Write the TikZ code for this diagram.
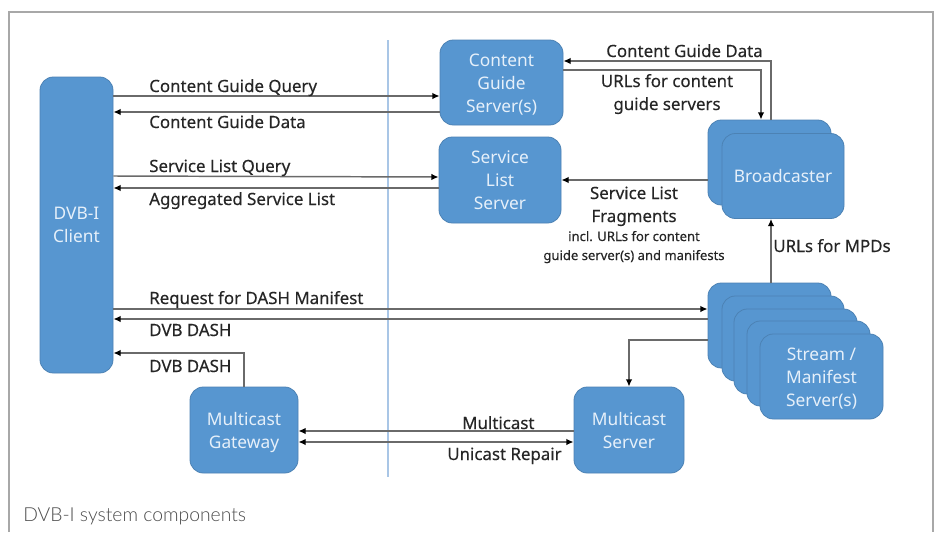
\documentclass[tikz,border=0pt]{standalone}
\usepackage{fontspec}
\setmainfont{Noto Sans}
\newfontfamily\labfont[FakeBold=0.3]{Noto Sans}
\newfontfamily\capfont{Lato Light}
\usetikzlibrary{arrows.meta}
\definecolor{boxblue}{HTML}{5796D0}
\definecolor{boxedge}{HTML}{4C82B4}
\definecolor{wire}{HTML}{6A6A6A}
\definecolor{framegrey}{HTML}{A8A8A8}
\definecolor{divider}{HTML}{A9C6E6}
\definecolor{boxtext}{HTML}{E6F0FA}
\newcommand{\lowered}[1]{\raisebox{-1.8pt}[\height][\depth]{\begin{tabular}{@{}c@{}}#1\end{tabular}}}
\tikzset{
  blk/.style 2 args={draw=boxedge,line width=0.6pt,fill=boxblue,rounded corners=10pt,text=boxtext,
    minimum width=#1*0.75pt,minimum height=#2*0.75pt,inner sep=0pt,align=center,
    font=\fontsize{13}{17.25}\selectfont},
  wirearrow/.style={draw=wire,line width=1.1pt,-{Latex[length=5.5pt,width=5pt,black]}},
  wireboth/.style={draw=wire,line width=1.1pt,{Latex[length=5.5pt,width=5pt,black]}-{Latex[length=5.5pt,width=5pt,black]}},
  lab/.style={anchor=base west,inner sep=0pt,text=black!85,font=\labfont\fontsize{12.65}{15}\selectfont},
  labc/.style={anchor=base,inner sep=0pt,text=black!85,font=\labfont\fontsize{12.65}{15}\selectfont},
  labs/.style={anchor=base,inner sep=0pt,text=black!85,font=\labfont\fontsize{9.8}{12}\selectfont}
}
\begin{document}
\begin{tikzpicture}[x=0.75pt,y=-0.75pt]
\useasboundingbox (0,0) rectangle (938,532);
\fill[white] (0,0) rectangle (938,532);
\draw[framegrey,line width=0.9pt] (9,532) -- (9,12) -- (933,12) -- (933,532);
\draw[divider,line width=0.9pt] (388,40) -- (388,477);
% boxes
\node[blk={73}{296}] (client) at (76.5,225) {DVB-I\\Client};
\node[blk={123}{85}] (cg) at (501.5,82.5) {\lowered{Content\\Guide\\Server(s)}};
\node[blk={122}{86}] (sl) at (500,180) {Service\\List\\Server};
\node[blk={123}{85}] (bb) at (769.5,162.5) {};
\node[blk={122}{85}] (bf) at (783,176) {Broadcaster};
\node[blk={123}{85}] (s1) at (769.5,325.5) {};
\node[blk={122}{85}] (s2) at (783,338.5) {};
\node[blk={123}{85}] (s3) at (795.5,351.5) {};
\node[blk={123}{85}] (s4) at (808.5,363.5) {};
\node[blk={123}{85}] (s5) at (821.5,376.5) {\lowered{Stream /\\Manifest\\Server(s)}};
\node[blk={110}{86}] (ms) at (629,430) {Multicast\\Server};
\node[blk={108}{86}] (mg) at (244,430) {\lowered{Multicast\\Gateway}};
% connector waypoints
\coordinate (cgd) at (771,61);
\coordinate (cgu) at (761,70);
\coordinate (smc) at (629,340);
\coordinate (gwc) at (244,353);
% connectors
\draw[wirearrow] (client.east |- 0,96) -- (cg.west |- 0,96);
\draw[wirearrow] (cg.west |- 0,112) -- (client.east |- 0,112);
\draw[wirearrow] (client.east |- 0,176) -- (sl.west |- 0,177);
\draw[wirearrow] (sl.west |- 0,188) -- (client.east |- 0,188);
\draw[wirearrow] (client.east |- 0,309) -- (s1.west |- 0,309);
\draw[wirearrow] (s1.west |- 0,319) -- (client.east |- 0,319);
\draw[wirearrow] (mg.north) -- (gwc) -- (client.east |- gwc);
\draw[wirearrow] (bb.north -| cgd) -- (cgd) -- (cg.east |- cgd);
\draw[wirearrow] (cg.east |- cgu) -- (cgu) -- (bb.north -| cgu);
\draw[wirearrow] (bb.west |- 0,180) -- (sl.east |- 0,180);
\draw[wirearrow] (s1.north -| cgd) -- (bf.south -| cgd);
\draw[wirearrow] (s1.west |- smc) -- (smc) -- (ms.north);
\draw[wirearrow] (ms.west |- 0,431) -- (mg.east |- 0,431);
\draw[wireboth] (mg.east |- 0,442) -- (ms.west |- 0,442);
% labels
\node[lab] (l1) at (149,92) {Content Guide Query};
\node[lab] (l2) at (149,128) {Content Guide Data};
\node[lab] (l3) at (149,172) {Service List Query};
\node[lab] (l4) at (149,205) {Aggregated Service List};
\node[lab] (l5) at (149,304) {Request for DASH Manifest};
\node[lab] (l6) at (149,336) {DVB DASH};
\node[lab] (l7) at (149,372) {DVB DASH};
\node[lab] (l8) at (462,429) {Multicast};
\node[lab] (l9) at (447,460) {Unicast Repair};
\node[lab] (l10) at (606,57) {Content Guide Data};
\node[labc] (l11) at (667,87) {URLs for content};
\node[labc] (l12) at (667,110) {guide servers};
\node[labc] (l13) at (634,199) {Service List};
\node[labc] (l14) at (634,222) {Fragments};
\node[labs] (l15) at (634,241) {incl. URLs for content};
\node[labs] (l16) at (634,260) {guide server(s) and manifests};
\node[lab] (l17) at (773,252) {URLs for MPDs};
\node[anchor=base west,inner sep=0pt,text=black!70,font=\capfont\fontsize{14.5}{17}\selectfont] (cap) at (23,521) {DVB-I system components};
\end{tikzpicture}
\end{document}
